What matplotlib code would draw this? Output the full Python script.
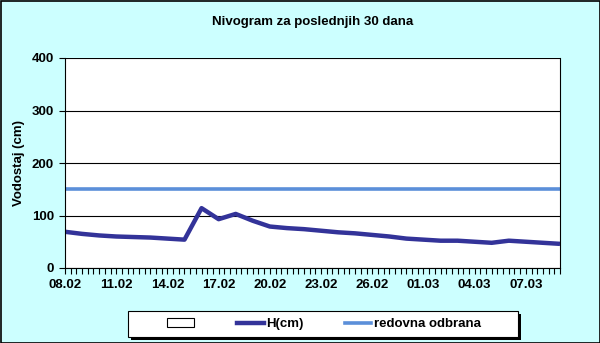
import matplotlib.pyplot as plt
from matplotlib.patches import Rectangle, Patch
from matplotlib.lines import Line2D
import numpy as np

plt.rcParams["font.family"] = ["Liberation Sans", "DejaVu Sans"]

# dnevni vodostaj, 08.02 - 09.03
dates = ["08.02", "09.02", "10.02", "11.02", "12.02", "13.02", "14.02", "15.02",
         "16.02", "17.02", "18.02", "19.02", "20.02", "21.02", "22.02", "23.02",
         "24.02", "25.02", "26.02", "27.02", "28.02", "01.03", "02.03", "03.03",
         "04.03", "05.03", "06.03", "07.03", "08.03", "09.03"]
h_cm = [69, 65, 62, 60, 59, 58, 56, 54, 114, 93, 103, 90, 79, 76, 74, 71,
        68, 66, 63, 60, 56, 54, 52, 52, 50, 48, 52, 50, 48, 46]
redovna = [150] * len(dates)
y_ticks = [0, 100, 200, 300, 400]

bg = "#CCFFFF"
h_color = "#333399"
red_color = "#5B8FD9"
fs = 9.5

fig = plt.figure(figsize=(6, 3.43), dpi=100, facecolor=bg)
ax = fig.add_axes([65 / 600, 1 - 268 / 343, 495 / 600, 210 / 343])
ax.set_facecolor("white")

x = np.arange(len(dates))
ax.plot(x, redovna, color=red_color, linewidth=2.6, solid_capstyle="butt")
ax.plot(x, h_cm, color=h_color, linewidth=3.2, solid_capstyle="butt")

ax.set_xlim(0, len(dates) - 1)
ax.set_ylim(0, 400)
ax.set_yticks(y_ticks)
ax.set_yticklabels([str(v) for v in y_ticks], fontsize=fs, fontweight="bold")
ax.set_xticks(x[::3])
ax.set_xticklabels(dates[::3], fontsize=fs, fontweight="bold")
ax.set_xticks(np.arange(0, len(dates) - 1 + 1e-9, 1 / 3), minor=True)
ax.tick_params(axis="x", which="both", direction="out", length=4, width=0.8, pad=4)
ax.tick_params(axis="y", direction="out", length=4, width=0.8, pad=4)
ax.grid(axis="y", color="black", linewidth=0.8)
ax.set_axisbelow(True)

for s in ax.spines.values():
    s.set_color("black")
    s.set_linewidth(0.8)
ax.spines["top"].set_visible(False)

ax.set_ylabel("Vodostaj (cm)", fontsize=fs, fontweight="bold", labelpad=5)
fig.text(313 / 600, 1 - 22 / 343, "Nivogram za poslednjih 30 dana",
         ha="center", va="center", fontsize=fs, fontweight="bold")

# okvir legende sa senkom
fig.patches.append(Rectangle((131 / 600, 3 / 343), 390 / 600, 26 / 343,
                             transform=fig.transFigure, facecolor="black",
                             edgecolor="black", linewidth=0))
fig.patches.append(Rectangle((128 / 600, 6 / 343), 390 / 600, 26 / 343,
                             transform=fig.transFigure, facecolor="white",
                             edgecolor="black", linewidth=0.8))

handles = [Patch(facecolor="white", edgecolor="black", linewidth=0.8),
           Line2D([], [], color=h_color, linewidth=3.2),
           Line2D([], [], color=red_color, linewidth=2.6)]
labels = ["", "H(cm)", "redovna odbrana"]
fig.legend(handles, labels, ncol=3, loc="center", frameon=False,
           bbox_to_anchor=(324 / 600, 1 - 324 / 343),
           prop={"size": fs, "weight": "bold"}, handlelength=2.0,
           handleheight=0.6, handletextpad=0.2, columnspacing=3.1)

# okvir cele slike
fig.patches.append(Rectangle((0.5 / 600, 0.5 / 343), 599 / 600, 342 / 343,
                             transform=fig.transFigure, fill=False,
                             edgecolor="black", linewidth=1.2))

fig.savefig("out.png", dpi=100, facecolor=bg)
